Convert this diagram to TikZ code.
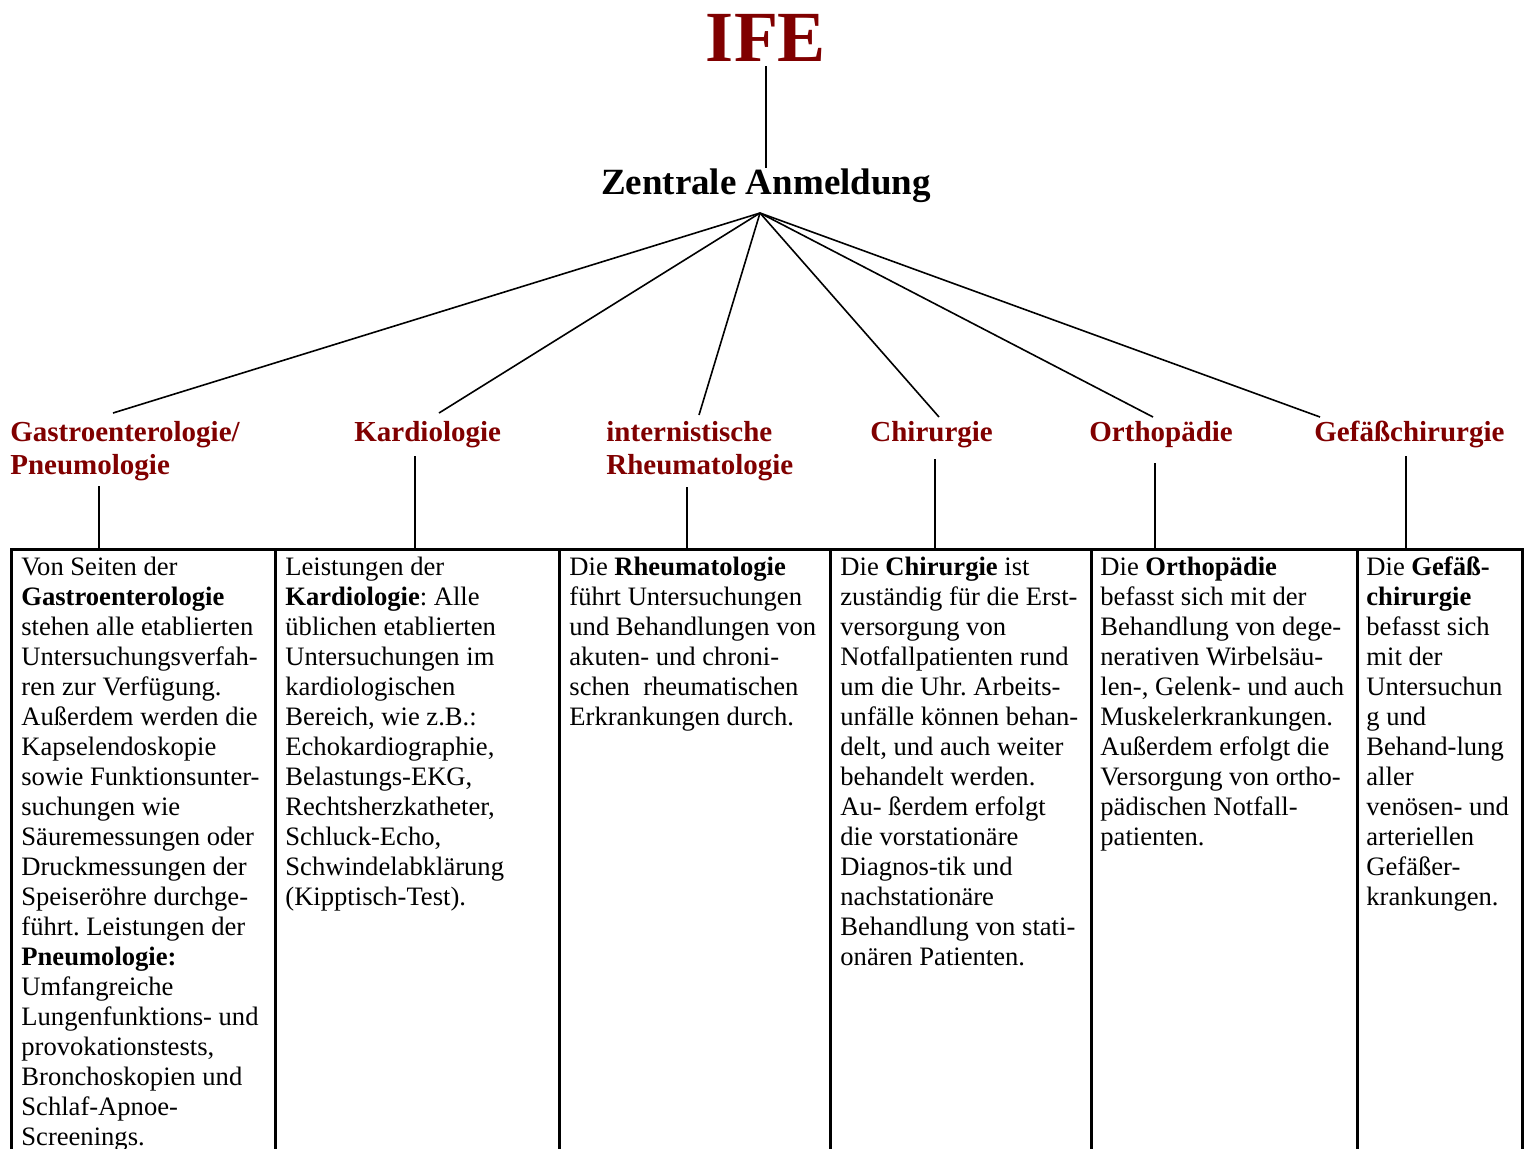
\documentclass[tikz,border=0pt]{standalone}
\usepackage{fontspec}
\setmainfont{Liberation Serif}
\frenchspacing
\definecolor{ifered}{RGB}{128,0,0}
\tikzset{
  titletext/.style={font=\fontsize{36}{40}\selectfont\bfseries, text=ifered, inner sep=0pt, anchor=base},
  hubtext/.style={font=\fontsize{18.5}{22}\selectfont\bfseries, inner sep=0pt, anchor=base},
  lbl/.style={font=\fontsize{14.5}{16.5}\selectfont\bfseries, text=ifered, inner sep=0pt, align=left, anchor=north west},
  coltext/.style={font=\fontsize{13.3}{15}\selectfont\frenchspacing, inner sep=0pt, align=left, anchor=north west},
  conn/.style={line width=0.8pt},
  frame/.style={line width=1.5pt}
}
\begin{document}
\begin{tikzpicture}[x=0.5pt,y=-0.5pt]
\useasboundingbox (0,0) rectangle (1525,1148);
% top
\node[titletext] (ife) at (766,61) {IFE};
\node[hubtext] (za) at (766,194) {Zentrale Anmeldung};
\draw[conn] (ife.south) ++(0,5) -- (za.north);
\coordinate (hub) at (760,213);
% category labels (top = first baseline 441 - strut 23.1)
\node[lbl] (gastro) at (10,417.9) {\strut Gastroenterologie/\\Pneumologie};
\node[lbl] (kardio) at (354,417.9) {\strut Kardiologie};
\node[lbl] (rheuma) at (606,417.9) {\strut internistische\\Rheumatologie};
\node[lbl] (chir) at (870,417.9) {\strut Chirurgie};
\node[lbl] (ortho) at (1089,417.9) {\strut Orthopädie};
\node[lbl] (gefaess) at (1314,417.9) {\strut Gefäßchirurgie};
% fan end points
\coordinate (gastroT) at (113,413);
\coordinate (kardioT) at (439,413);
\coordinate (rheumaT) at (699,415);
\coordinate (chirT) at (939,417);
\coordinate (orthoT) at (1153,417);
\coordinate (gefaessT) at (1320,417);
\foreach \c in {gastroT,kardioT,rheumaT,chirT,orthoT,gefaessT}
  \draw[conn] (hub) -- (\c);
% label bottoms and column tops
\coordinate (gastroB) at (99,486);   \coordinate (gastroC) at (99,549);
\coordinate (kardioB) at (415,456);  \coordinate (kardioC) at (415,549);
\coordinate (rheumaB) at (687,487);  \coordinate (rheumaC) at (687,549);
\coordinate (chirB) at (935,459);    \coordinate (chirC) at (935,549);
\coordinate (orthoB) at (1155,463);  \coordinate (orthoC) at (1155,549);
\coordinate (gefaessB) at (1406,456);\coordinate (gefaessC) at (1406,549);
\foreach \c in {gastro,kardio,rheuma,chir,ortho,gefaess}
  \draw[conn] (\c B) -- (\c C);
% table
\draw[frame] (11,1160) -- (11,549) -- (1522,549) -- (1522,1160);
\foreach \x in {275,559,830,1091,1357}
  \draw[frame] (\x,549) -- (\x,1160);
% column texts (top = first baseline 575 - strut 21)
\node[coltext] (t1) at (21,554) {\strut Von Seiten der\\
\textbf{Gastroenterologie}\\
stehen alle etablierten\\
Untersuchungsverfah-\\
ren zur Verfügung.\\
Außerdem werden die\\
Kapselendoskopie\\
sowie Funktionsunter-\\
suchungen wie\\
Säuremessungen oder\\
Druckmessungen der\\
Speiseröhre durchge-\\
führt. Leistungen der\\
\textbf{Pneumologie:}\\
Umfangreiche\\
Lungenfunktions- und\\
provokationstests,\\
Bronchoskopien und\\
Schlaf-Apnoe-\\
Screenings.};
\node[coltext] (t2) at (285,554) {\strut Leistungen der\\
\textbf{Kardiologie}: Alle\\
üblichen etablierten\\
Untersuchungen im\\
kardiologischen\\
Bereich, wie z.B.:\\
Echokardiographie,\\
Belastungs-EKG,\\
Rechtsherzkatheter,\\
Schluck-Echo,\\
Schwindelabklärung\\
(Kipptisch-Test).};
\node[coltext] (t3) at (569,554) {\strut Die \textbf{Rheumatologie}\\
führt Untersuchungen\\
und Behandlungen von\\
akuten- und chroni-\\
schen~ rheumatischen\\
Erkrankungen durch.};
\node[coltext] (t4) at (840,554) {\strut Die \textbf{Chirurgie} ist\\
zuständig für die Erst-\\
versorgung von\\
Notfallpatienten rund\\
um die Uhr. Arbeits-\\
unfälle können behan-\\
delt, und auch weiter\\
behandelt werden.\\
Au- ßerdem erfolgt\\
die vorstationäre\\
Diagnos-tik und\\
nachstationäre\\
Behandlung von stati-\\
onären Patienten.};
\node[coltext] (t5) at (1100,554) {\strut Die \textbf{Orthopädie}\\
befasst sich mit der\\
Behandlung von dege-\\
nerativen Wirbelsäu-\\
len-, Gelenk- und auch\\
Muskelerkrankungen.\\
Außerdem erfolgt die\\
Versorgung von ortho-\\
pädischen Notfall-\\
patienten.};
\node[coltext] (t6) at (1366,554) {\strut Die \textbf{Gefäß-}\\
\textbf{chirurgie}\\
befasst sich\\
mit der\\
Untersuchun\\
g und\\
Behand-lung\\
aller\\
venösen- und\\
arteriellen\\
Gefäßer-\\
krankungen.};
\end{tikzpicture}
\end{document}
